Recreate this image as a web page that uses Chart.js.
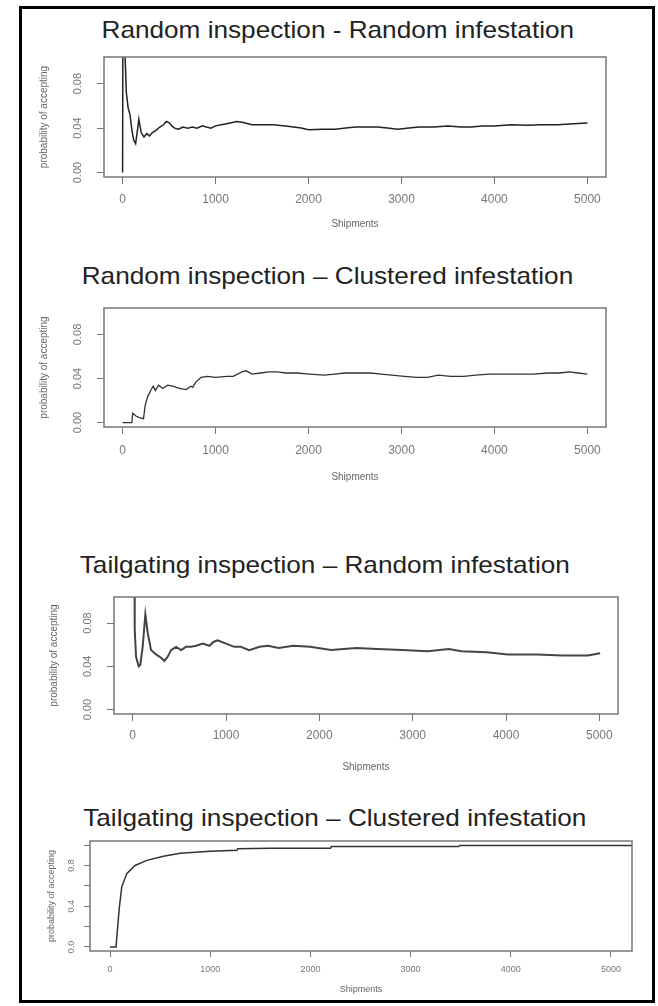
<!DOCTYPE html>
<html lang="en">
<head>
<meta charset="UTF-8">
<title>Probability of accepting</title>
<script src="https://cdn.jsdelivr.net/npm/chart.js"></script>
<style>
  body { margin: 0; background: #fff; font-family: "Liberation Sans", Arial, sans-serif; }
  #frame { position: absolute; left: 19px; top: 6px; width: 636px; height: 997px; border: 3px solid #000; box-sizing: border-box; }
  .title { position: absolute; width: 658px; text-align: center; font-size: 24px; line-height: 28px; color: #222; }
  .title span { display: inline-block; transform: scaleX(1.09); }
  canvas { position: absolute; left: 0; }
</style>
</head>
<body>
<div id="frame"></div>

<div class="title" style="left:9px; top:16px"><span>Random inspection - Random infestation</span></div>
<canvas id="p1" width="658" height="195" style="top:37px"></canvas>

<div class="title" style="left:-2px; top:262px"><span>Random inspection – Clustered infestation</span></div>
<canvas id="p2" width="658" height="197" style="top:288px"></canvas>

<div class="title" style="left:-4px; top:551px"><span>Tailgating inspection – Random infestation</span></div>
<canvas id="p3" width="658" height="198" style="top:577px"></canvas>

<div class="title" style="left:6px; top:804px"><span>Tailgating inspection – Clustered infestation</span></div>
<canvas id="p4" width="658" height="176" style="top:821px"></canvas>

<script>
  // shared axis ticks
  const xTicks = [0, 1000, 2000, 3000, 4000, 5000];
  const xTickLabels = ['0', '1000', '2000', '3000', '4000', '5000'];
  const yTicksSmall = [0, 0.02, 0.04, 0.06, 0.08, 0.10];
  const yTickLabelsSmall = ['0.00', '', '0.04', '', '0.08', ''];
  const yTicksBig = [0, 0.2, 0.4, 0.6, 0.8, 1.0];
  const yTickLabelsBig = ['0.0', '', '0.4', '', '0.8', ''];

  // Random inspection - Random infestation
  const rrShip = [0, 5, 25, 40, 60, 80, 100, 120, 140, 155, 175, 200, 230, 260, 290, 320, 360, 400, 440, 470,
    500, 530, 560, 600, 650, 700, 750, 800, 860, 900, 950, 1000, 1060, 1120, 1180, 1230, 1300, 1390, 1500, 1620,
    1750, 1840, 1920, 2000, 2150, 2290, 2400, 2510, 2620, 2740, 2850, 2960, 3080, 3190, 3350, 3500, 3640, 3750, 3870, 4000,
    4180, 4360, 4500, 4680, 4850, 5000];
  const rrProb = [0, 0.2, 0.11, 0.072, 0.058, 0.052, 0.038, 0.029, 0.026, 0.035, 0.048, 0.036, 0.032, 0.035, 0.033, 0.036, 0.038, 0.041, 0.043, 0.046,
    0.045, 0.042, 0.040, 0.039, 0.041, 0.040, 0.041, 0.040, 0.042, 0.041, 0.040, 0.042, 0.043, 0.044, 0.045, 0.046, 0.045, 0.043, 0.043, 0.043,
    0.042, 0.041, 0.040, 0.0386, 0.039, 0.039, 0.040, 0.041, 0.041, 0.041, 0.040, 0.039, 0.040, 0.041, 0.041, 0.042, 0.041, 0.041, 0.042, 0.042,
    0.043, 0.0425, 0.043, 0.043, 0.044, 0.0447];

  // Random inspection - Clustered infestation
  const rcShip = [0, 100, 108, 144, 180, 225, 244, 270, 305, 330, 352, 388, 431, 485, 539, 611, 682, 736, 754, 790,
    844, 916, 1000, 1123, 1190, 1282, 1327, 1395, 1480, 1577, 1660, 1760, 1880, 2009, 2168, 2280, 2395, 2530, 2668, 2780,
    2895, 3030, 3168, 3280, 3395, 3530, 3668, 3800, 3941, 4100, 4259, 4420, 4577, 4700, 4805, 4900, 5000];
  const rcProb = [0, 0, 0.0085, 0.006, 0.0045, 0.0036, 0.016, 0.0236, 0.0296, 0.033, 0.029, 0.034, 0.031, 0.034, 0.033, 0.031, 0.030, 0.033, 0.032, 0.037,
    0.041, 0.042, 0.041, 0.042, 0.042, 0.046, 0.047, 0.044, 0.045, 0.046, 0.046, 0.045, 0.045, 0.044, 0.043, 0.044, 0.045, 0.045, 0.045, 0.044,
    0.043, 0.042, 0.041, 0.041, 0.043, 0.042, 0.042, 0.043, 0.044, 0.044, 0.044, 0.044, 0.045, 0.045, 0.046, 0.045, 0.044];

  // Tailgating inspection - Random infestation
  const trShip = [18, 22, 36, 64, 82, 107, 136, 161, 197, 250, 304, 340, 376, 411, 465, 519, 572, 626, 680, 751,
    823, 865, 910, 1000, 1090, 1158, 1248, 1360, 1450, 1563, 1721, 1901, 2126, 2396, 2622, 2892, 3162, 3387, 3523, 3793,
    4018, 4333, 4604, 4874, 5009];
  const trProb = [0.2, 0.074, 0.049, 0.040, 0.0415, 0.058, 0.088, 0.071, 0.055, 0.051, 0.048, 0.045, 0.049, 0.055, 0.058, 0.055, 0.058, 0.058, 0.059, 0.061,
    0.059, 0.0625, 0.064, 0.061, 0.058, 0.058, 0.055, 0.058, 0.059, 0.057, 0.059, 0.058, 0.055, 0.057, 0.056, 0.055, 0.054, 0.056, 0.054, 0.053,
    0.051, 0.051, 0.050, 0.050, 0.052];

  // Tailgating inspection - Clustered infestation
  const tcShip = [0, 60, 73, 93, 117, 167, 250, 367, 533, 700, 1000, 1267, 1275, 1600, 2200, 2210, 3480, 3490, 5210];
  const tcProb = [0, 0, 0.16, 0.39, 0.59, 0.72, 0.80, 0.85, 0.89, 0.92, 0.94, 0.95, 0.964, 0.97, 0.97, 0.985, 0.985, 0.995, 0.995];

  const boxPlugin = {
    id: 'box',
    afterDatasetsDraw(chart) {
      const a = chart.chartArea, ctx = chart.ctx;
      ctx.save();
      ctx.strokeStyle = '#777';
      ctx.lineWidth = 1.5;
      ctx.strokeRect(a.left, a.top, a.right - a.left, a.bottom - a.top);
      ctx.restore();
    }
  };

  function makePanel(id, ship, prob, g) {
    const yLabelOf = v => {
      const i = g.yTicks.findIndex(t => Math.abs(t - v) < 1e-9);
      return i < 0 ? '' : g.yLabels[i];
    };
    const xLabelOf = v => {
      const i = xTicks.indexOf(v);
      return i < 0 ? '' : xTickLabels[i];
    };
    new Chart(document.getElementById(id), {
      type: 'line',
      data: {
        datasets: [{
          data: ship.map((s, i) => ({ x: s, y: prob[i] })),
          borderColor: g.lineColor,
          borderWidth: g.lineWidth,
          pointRadius: 0,
          tension: 0
        }]
      },
      options: {
        responsive: false,
        animation: false,
        layout: { padding: { left: 25, right: g.padRight, top: 20, bottom: 0 } },
        plugins: { legend: { display: false }, tooltip: { enabled: false } },
        scales: {
          x: {
            type: 'linear',
            min: g.xMin, max: g.xMax,
            afterBuildTicks: s => { s.ticks = xTicks.map(v => ({ value: v })); },
            afterFit: s => { s.height = g.xAxisH; },
            border: { display: false },
            grid: { drawOnChartArea: false, drawTicks: true, tickLength: g.tickLen, tickColor: '#777', lineWidth: 1 },
            ticks: { autoSkip: false, maxRotation: 0, padding: g.xPad, color: '#777',
              font: { family: 'Liberation Sans', size: g.xFont }, callback: v => xLabelOf(v) },
            title: { display: true, text: 'Shipments', color: '#666',
              font: { family: 'Liberation Sans', size: g.titleFont }, padding: { top: 0, bottom: 2 } }
          },
          y: {
            min: g.yMin, max: g.yMax,
            afterBuildTicks: s => { s.ticks = g.yTicks.map(v => ({ value: v })); },
            afterFit: s => { s.width = g.yAxisW; },
            border: { display: false },
            grid: { drawOnChartArea: false, drawTicks: true, tickLength: g.tickLen, tickColor: '#777', lineWidth: 1 },
            ticks: { minRotation: 90, maxRotation: 90, crossAlign: 'center', padding: g.yPad, color: '#777',
              font: { family: 'Liberation Sans', size: g.yFont }, callback: v => yLabelOf(v) },
            title: { display: true, text: 'probability of accepting', color: '#666',
              font: { family: 'Liberation Sans', size: g.titleFont }, padding: { top: g.yTitlePad, bottom: 0 } }
          }
        }
      },
      plugins: [boxPlugin]
    });
  }

  makePanel('p1', rrShip, rrProb, {
    xMin: -200, xMax: 5200, yMin: -0.004, yMax: 0.104, yTicks: yTicksSmall, yLabels: yTickLabelsSmall,
    padRight: 52, yAxisW: 79, xAxisH: 55, tickLen: 7, xPad: 8, yPad: 8, yTitlePad: 13,
    xFont: 12, yFont: 11, titleFont: 10, lineColor: '#222', lineWidth: 1.5
  });
  makePanel('p2', rcShip, rcProb, {
    xMin: -200, xMax: 5200, yMin: -0.004, yMax: 0.104, yTicks: yTicksSmall, yLabels: yTickLabelsSmall,
    padRight: 52, yAxisW: 79, xAxisH: 58, tickLen: 7, xPad: 9, yPad: 8, yTitlePad: 13,
    xFont: 12, yFont: 11, titleFont: 10, lineColor: '#333', lineWidth: 1.3
  });
  makePanel('p3', trShip, trProb, {
    xMin: -200, xMax: 5200, yMin: -0.004, yMax: 0.104, yTicks: yTicksSmall, yLabels: yTickLabelsSmall,
    padRight: 40, yAxisW: 89, xAxisH: 61, tickLen: 7, xPad: 7, yPad: 8, yTitlePad: 23,
    xFont: 12, yFont: 11, titleFont: 10, lineColor: '#444', lineWidth: 2
  });
  makePanel('p4', tcShip, tcProb, {
    xMin: -200, xMax: 5210, yMin: -0.04, yMax: 1.04, yTicks: yTicksBig, yLabels: yTickLabelsBig,
    padRight: 26, yAxisW: 65, xAxisH: 46, tickLen: 6, xPad: 7, yPad: 6, yTitlePad: 21,
    xFont: 9, yFont: 9, titleFont: 9, lineColor: '#333', lineWidth: 1.5
  });
</script>
</body>
</html>
